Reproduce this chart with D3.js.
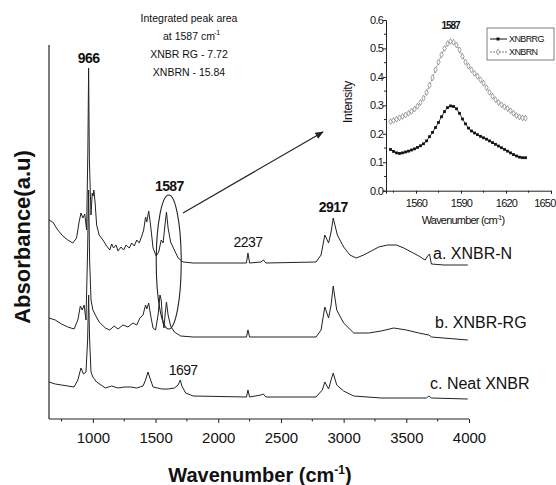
<!DOCTYPE html>
<html>
<head>
<meta charset="utf-8">
<script src="https://cdn.jsdelivr.net/npm/d3@7"></script>
<style>
  body { margin: 0; background: #fff; }
  text { font-family: "Liberation Sans", Arial, sans-serif; fill: #111; }
</style>
</head>
<body>
<svg id="chart"></svg>
<script>
// main spectra: [wavenumber, absorbance] (traces already offset)
var traceN = [[650,1.99],[680,1.97],[720,1.89],[760,1.83],[800,1.79],[840,1.76],[870,1.81],[890,1.97],[905,2.06],[920,2.01],[935,2.05],[950,1.89],[960,2.69],[966,3.51],[972,2.59],[985,2.04],[995,2.26],[1002,2.23],[1008,2.29],[1018,2.16],[1030,1.94],[1050,1.84],[1080,1.79],[1110,1.73],[1135,1.69],[1150,1.75],[1165,1.71],[1185,1.74],[1200,1.68],[1225,1.72],[1245,1.69],[1265,1.74],[1290,1.71],[1310,1.76],[1330,1.73],[1350,1.79],[1370,1.76],[1390,1.83],[1405,1.89],[1420,2.02],[1430,1.97],[1445,2.08],[1460,1.94],[1480,1.71],[1505,1.63],[1525,1.67],[1545,1.79],[1560,1.76],[1575,1.94],[1587,2.07],[1600,1.91],[1620,1.77],[1650,1.69],[1680,1.61],[1720,1.57],[1800,1.56],[2225,1.56],[2237,1.66],[2250,1.56],[2340,1.57],[2360,1.59],[2380,1.56],[2780,1.57],[2820,1.64],[2850,1.84],[2880,1.76],[2900,1.87],[2917,2.01],[2950,1.84],[3000,1.72],[3050,1.64],[3100,1.61],[3160,1.64],[3220,1.68],[3280,1.72],[3350,1.74],[3420,1.74],[3480,1.71],[3540,1.67],[3600,1.63],[3650,1.59],[3670,1.63],[3685,1.65],[3700,1.55],[3800,1.54],[3990,1.54]];

var traceRG = [[650,1.01],[700,0.99],[750,0.95],[800,0.92],[850,0.90],[880,0.99],[900,1.13],[915,1.09],[930,1.14],[945,0.99],[958,1.69],[966,2.29],[974,1.59],[985,1.19],[1000,1.09],[1020,1.04],[1050,0.97],[1100,0.91],[1135,0.89],[1170,0.93],[1200,0.90],[1240,0.94],[1280,0.92],[1320,0.96],[1350,0.94],[1375,1.01],[1400,1.04],[1420,1.14],[1430,1.10],[1445,1.16],[1460,1.04],[1480,0.91],[1500,0.89],[1520,1.04],[1535,1.24],[1545,1.19],[1555,1.01],[1567,0.91],[1578,1.07],[1587,1.17],[1600,1.04],[1620,0.93],[1650,0.87],[1700,0.83],[1800,0.82],[2225,0.82],[2237,0.89],[2250,0.82],[2780,0.82],[2820,0.89],[2850,1.12],[2880,1.01],[2900,1.14],[2917,1.33],[2945,1.09],[3000,0.96],[3080,0.86],[3200,0.86],[3300,0.88],[3400,0.91],[3500,0.89],[3600,0.86],[3680,0.84],[3700,0.82],[3990,0.79]];

var traceNeat = [[650,0.37],[700,0.35],[750,0.34],[800,0.33],[850,0.32],[880,0.39],[905,0.51],[925,0.45],[945,0.47],[958,0.79],[966,1.24],[974,0.79],[985,0.47],[1000,0.42],[1030,0.37],[1100,0.31],[1150,0.33],[1200,0.31],[1250,0.32],[1300,0.32],[1350,0.31],[1400,0.33],[1420,0.39],[1440,0.47],[1455,0.41],[1480,0.32],[1550,0.30],[1600,0.30],[1650,0.31],[1680,0.34],[1697,0.39],[1710,0.33],[1740,0.26],[1800,0.23],[2225,0.22],[2237,0.29],[2250,0.22],[2340,0.24],[2360,0.25],[2380,0.22],[2780,0.22],[2830,0.29],[2850,0.37],[2880,0.30],[2900,0.39],[2917,0.46],[2945,0.34],[3000,0.28],[3080,0.23],[3300,0.21],[3660,0.21],[3680,0.23],[3700,0.21],[3990,0.20]];

var traceNames = ["a. XNBR-N", "b. XNBR-RG", "c. Neat XNBR"];
var peakLabels = [{wn:966, v:3.56, t:"966", bold:true}, {wn:1610, v:2.28, t:"1587", bold:true},
                  {wn:2237, v:1.72, t:"2237", bold:false}, {wn:2917, v:2.07, t:"2917", bold:true},
                  {wn:1720, v:0.44, t:"1697", bold:false}];
var areaNotes = ["Integrated  peak area", "at 1587 cm", "XNBR RG - 7.72", "XNBRN - 15.84"];
var xTicks = [1000, 1500, 2000, 2500, 3000, 3500, 4000];

// inset: wavenumbers and intensities
var insetWn = [1543,1545,1547,1549,1551,1553,1555,1557,1559,1561,1563,1565,1567,1569,1571,1573,1575,1577,1579,1581,1583,1585,1587,1589,1591,1593,1595,1597,1599,1601,1603,1605,1607,1609,1611,1613,1615,1617,1619,1621,1623,1625,1627,1629,1631,1633];
var insetRG = [.145,.138,.133,.131,.133,.136,.139,.143,.147,.152,.158,.165,.175,.190,.205,.222,.240,.260,.278,.292,.298,.296,.288,.272,.252,.235,.220,.210,.203,.197,.191,.186,.181,.175,.169,.163,.157,.151,.145,.139,.133,.127,.122,.118,.116,.116];
var insetN = [.243,.247,.251,.256,.261,.266,.272,.279,.287,.297,.310,.325,.345,.370,.397,.425,.452,.478,.500,.517,.525,.522,.512,.495,.472,.452,.438,.425,.413,.402,.390,.378,.362,.346,.332,.320,.310,.302,.295,.289,.281,.272,.264,.259,.256,.255];
var insetXTicks = [1560, 1590, 1620, 1650];
var insetYTicks = [0, 0.1, 0.2, 0.3, 0.4, 0.5, 0.6];

var W = 556, H = 485;
var svg = d3.select("#chart").attr("width", W).attr("height", H);

var x = d3.scaleLinear().domain([650, 4000]).range([49, 469]);
var y = d3.scaleLinear().domain([0, 3.74]).range([419, 45]);

var line = d3.line()
  .x(function(d){ return x(d[0]); })
  .y(function(d){ return y(d[1]); });

// spectra
[traceN, traceRG, traceNeat].forEach(function(tr){
  svg.append("path")
    .attr("d", line(tr))
    .attr("fill", "none")
    .attr("stroke", "#222")
    .attr("stroke-width", 1);
});

// axes
var xAxis = d3.axisBottom(x).tickValues(xTicks).tickSize(4).tickFormat(d3.format("d"));
var gx = svg.append("g").attr("transform", "translate(0,419)").call(xAxis);
gx.select(".domain").attr("stroke", "#222").attr("d", "M49,0H469");
gx.selectAll(".tick line").attr("stroke", "#222");
gx.selectAll(".tick text").attr("dy", "1.15em").style("font-size", "15px")
  .style("font-family", "'Liberation Sans', Arial, sans-serif").attr("fill", "#111");
gx.selectAll(".minor").data(d3.range(750, 4000, 500)).enter()
  .append("line").attr("class", "minor")
  .attr("x1", function(d){ return x(d); }).attr("x2", function(d){ return x(d); })
  .attr("y1", 0).attr("y2", 2.5).attr("stroke", "#222");

svg.append("line").attr("x1", 49).attr("x2", 49).attr("y1", 45).attr("y2", 419)
  .attr("stroke", "#222").attr("stroke-width", 1.2);

// axis titles
svg.append("text").attr("x", 260).attr("y", 482).attr("text-anchor", "middle")
  .style("font-size", "20px").style("font-weight", "bold")
  .text("Wavenumber (cm").append("tspan").attr("dy", -8).style("font-size", "12px").text("-1")
  .select(function(){ return this.parentNode; })
  .append("tspan").attr("dy", 8).text(")");

svg.append("text").attr("transform", "translate(30,237) rotate(-90)").attr("text-anchor", "middle")
  .style("font-size", "22px").style("font-weight", "bold").text("Absorbance(a.u)");

// peak labels
svg.selectAll(".peak").data(peakLabels).enter().append("text")
  .attr("class", "peak")
  .attr("x", function(d){ return x(d.wn); })
  .attr("y", function(d){ return y(d.v); })
  .attr("text-anchor", "middle")
  .style("font-size", "14px")
  .style("letter-spacing", "-0.6px")
  .style("font-weight", function(d){ return d.bold ? "bold" : "normal"; })
  .text(function(d){ return d.t; });

// trace names
var nameY = [259, 328, 389];
var nameX = [433, 435, 430];
svg.selectAll(".tname").data(traceNames).enter().append("text")
  .attr("x", function(d, i){ return nameX[i]; })
  .attr("y", function(d, i){ return nameY[i]; })
  .style("font-size", "16px")
  .text(function(d){ return d; });

// note about peak area
svg.selectAll(".note").data(areaNotes).enter().append("text")
  .attr("x", 189).attr("y", function(d, i){ return 22 + i * 18; })
  .attr("text-anchor", "middle")
  .style("font-size", "10.5px").attr("fill", "#333")
  .text(function(d){ return d; });
svg.selectAll(".note-sup").data([0]).enter().append("text")
  .attr("x", 214).attr("y", 35).style("font-size", "7px").attr("fill", "#333").text("-1");

// ellipse + arrow
svg.append("ellipse").attr("cx", x(1605)).attr("cy", y(1.57)).attr("rx", 12.5).attr("ry", 67)
  .attr("fill", "none").attr("stroke", "#222").attr("stroke-width", 1.1);

svg.append("defs").append("marker").attr("id", "ah")
  .attr("viewBox", "0 0 10 10").attr("refX", 9).attr("refY", 5)
  .attr("markerWidth", 7).attr("markerHeight", 7).attr("orient", "auto")
  .append("path").attr("d", "M0,1 L10,5 L0,9 z").attr("fill", "#222");
svg.append("line").attr("x1", 183).attr("y1", 213).attr("x2", 323).attr("y2", 132)
  .attr("stroke", "#222").attr("stroke-width", 1.2).attr("marker-end", "url(#ah)");

// ---------- inset ----------
var ix = d3.scaleLinear().domain([1540, 1650]).range([386, 551]);
var iy = d3.scaleLinear().domain([0, 0.6]).range([190.7, 20]);
var inset = svg.append("g");

var iyAxis = d3.axisLeft(iy).tickValues(insetYTicks).tickSize(3).tickFormat(d3.format(".1f"));
var giy = inset.append("g").attr("transform", "translate(386,0)").call(iyAxis);
var gix = inset.append("g").attr("transform", "translate(0,190.7)")
  .call(d3.axisBottom(ix).tickValues(insetXTicks).tickSize(3).tickFormat(d3.format("d")));
[giy, gix].forEach(function(g){
  g.select(".domain").attr("stroke", "#222");
  g.selectAll(".tick line").attr("stroke", "#222");
  g.selectAll(".tick text").style("font-size", "11px").style("letter-spacing", "-0.8px")
    .style("font-family", "'Liberation Sans', Arial, sans-serif").attr("fill", "#111");
});
giy.selectAll(".tick text").attr("x", -3);
gix.selectAll(".tick text").attr("dy", "0.9em");
// last label would run past the page edge, keep it inside
gix.selectAll(".tick text").filter(function(d){ return d === 1650; })
  .attr("text-anchor", "end").attr("x", 4);
gix.selectAll(".minor").data([1545, 1575, 1605, 1635]).enter().append("line")
  .attr("x1", function(d){ return ix(d); }).attr("x2", function(d){ return ix(d); })
  .attr("y1", 0).attr("y2", 2).attr("stroke", "#222");
giy.selectAll(".minor").data([0.05, 0.15, 0.25, 0.35, 0.45, 0.55]).enter().append("line")
  .attr("y1", function(d){ return iy(d); }).attr("y2", function(d){ return iy(d); })
  .attr("x1", 0).attr("x2", -2).attr("stroke", "#222");

inset.append("text").attr("transform", "translate(352,102) rotate(-90)").attr("text-anchor", "middle")
  .style("font-size", "12px").style("letter-spacing", "-0.3px").text("Intensity");
inset.append("text").attr("x", 463).attr("y", 224).attr("text-anchor", "middle")
  .style("font-size", "11px").style("letter-spacing", "-0.8px")
  .text("Wavenumber (cm").append("tspan").attr("dy", -4).style("font-size", "7px").text("-1")
  .select(function(){ return this.parentNode; }).append("tspan").attr("dy", 4).text(")");

var iline = d3.line()
  .x(function(d, i){ return ix(insetWn[i]); })
  .y(function(d){ return iy(d); });

inset.append("path").attr("d", iline(insetN)).attr("fill", "none")
  .attr("stroke", "#777").attr("stroke-width", 0.8).attr("stroke-dasharray", "2,1");
inset.append("path").attr("d", iline(insetRG)).attr("fill", "none")
  .attr("stroke", "#111").attr("stroke-width", 0.8);

var diamond = d3.symbol().type(d3.symbolDiamond).size(10);
inset.selectAll(".dN").data(insetN).enter().append("path")
  .attr("d", diamond)
  .attr("transform", function(d, i){ return "translate(" + ix(insetWn[i]) + "," + iy(d) + ")"; })
  .attr("fill", "#fff").attr("stroke", "#666").attr("stroke-width", 0.6);
inset.selectAll(".sRG").data(insetRG).enter().append("rect")
  .attr("x", function(d, i){ return ix(insetWn[i]) - 1.4; })
  .attr("y", function(d){ return iy(d) - 1.4; })
  .attr("width", 2.8).attr("height", 2.8).attr("fill", "#111");

inset.append("text").attr("x", ix(1583)).attr("y", iy(0.57)).attr("text-anchor", "middle")
  .style("font-size", "10px").style("font-weight", "bold").style("letter-spacing", "-1px").text("1587");

// inset legend
var leg = inset.append("g");
leg.append("rect").attr("x", 487).attr("y", 28).attr("width", 67).attr("height", 32)
  .attr("fill", "#fff").attr("stroke", "#444").attr("stroke-width", 0.7);
leg.append("line").attr("x1", 490).attr("x2", 507).attr("y1", 39).attr("y2", 39).attr("stroke", "#111");
leg.append("rect").attr("x", 496.5).attr("y", 37.5).attr("width", 3).attr("height", 3).attr("fill", "#111");
leg.append("line").attr("x1", 490).attr("x2", 507).attr("y1", 52).attr("y2", 52)
  .attr("stroke", "#777").attr("stroke-dasharray", "2,1");
leg.append("path").attr("d", diamond).attr("transform", "translate(498,52)")
  .attr("fill", "#fff").attr("stroke", "#666").attr("stroke-width", 0.6);
leg.selectAll(".lt").data(["XNBRRG", "XNBRN"]).enter().append("text")
  .attr("x", 509).attr("y", function(d, i){ return 42 + i * 13; })
  .style("font-size", "9px").style("letter-spacing", "-0.6px").text(function(d){ return d; });
</script>
</body>
</html>
